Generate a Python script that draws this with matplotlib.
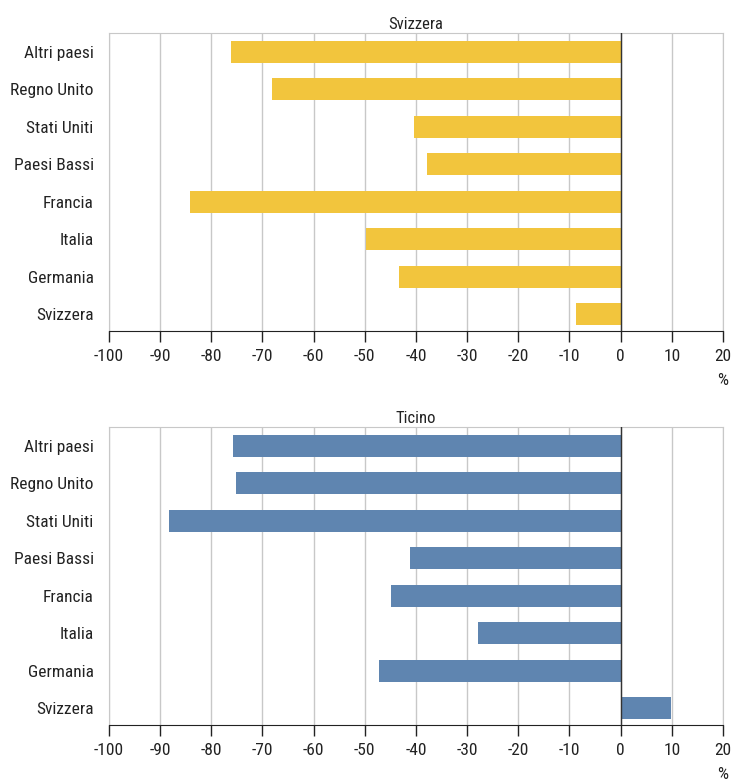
import matplotlib
matplotlib.use("Agg")
import matplotlib.pyplot as plt
from matplotlib import font_manager

categories = ["Svizzera", "Germania", "Italia", "Francia",
              "Paesi Bassi", "Stati Uniti", "Regno Unito", "Altri paesi"]
svizzera_vals = [-8.7, -43.3, -49.8, -84.1, -37.9, -40.4, -68.1, -76.2]
ticino_vals = [9.8, -47.2, -27.9, -44.9, -41.2, -88.3, -75.2, -75.8]
xticks = list(range(-100, 21, 10))

# pick a condensed face, fall back to DejaVu condensed
names = {f.name for f in font_manager.fontManager.ttflist}
family = next((n for n in ["Roboto Condensed", "Archivo Narrow", "Barlow Condensed"] if n in names), None)
if family:
    plt.rcParams["font.family"] = [family, "DejaVu Sans"]
else:
    plt.rcParams["font.family"] = ["DejaVu Sans"]
    plt.rcParams["font.stretch"] = "condensed"
plt.rcParams["font.size"] = 12.5

fig = plt.figure(figsize=(7.36, 7.79), dpi=100)
ax1 = fig.add_axes([0.1481, 0.5751, 0.8342, 0.3825])
ax2 = fig.add_axes([0.1481, 0.0693, 0.8342, 0.3825])


def draw_panel(ax, values, color, title):
    ypos = range(len(categories))
    ax.barh(ypos, values, height=0.59, color=color, zorder=3)
    ax.set_xlim(-100, 20)
    ax.set_ylim(-0.45, 7.5)
    ax.set_yticks(list(ypos))
    ax.set_yticklabels(categories)
    ax.set_xticks(xticks)
    ax.set_xticklabels([str(t) for t in xticks])
    ax.grid(axis="x", color="#c8c8c8", linewidth=1, zorder=0)
    ax.axvline(0, color="#333333", linewidth=1, zorder=4)
    for side in ["top", "left", "right"]:
        ax.spines[side].set_color("#c8c8c8")
    ax.spines["bottom"].set_color("#222222")
    ax.tick_params(axis="y", length=0, pad=11, colors="#222222")
    ax.tick_params(axis="x", length=8, width=1, color="#222222",
                   labelcolor="#222222", pad=5)
    ax.set_title(title, fontsize=12, color="#222222", pad=3)
    ax.text(1.0, -0.165, "%", transform=ax.transAxes, ha="center", va="center",
            color="#222222")


draw_panel(ax1, svizzera_vals, "#f2c53d", "Svizzera")
draw_panel(ax2, ticino_vals, "#5f85b0", "Ticino")

fig.savefig("out.png", dpi=100)
